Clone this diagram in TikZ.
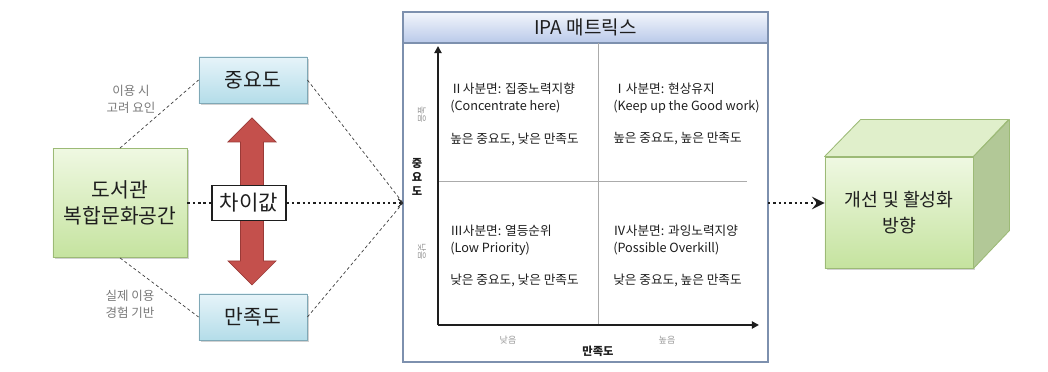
\documentclass[tikz,border=0pt]{standalone}
\usepackage{fontspec}
\setmainfont{Noto Sans CJK KR}
\usetikzlibrary{calc,arrows.meta,shadows}
\definecolor{ink}{HTML}{1E1E1E}
\definecolor{muted}{HTML}{7A7A7A}
\definecolor{hint}{HTML}{9A9A9A}
\definecolor{bluetop}{HTML}{E6F4F9}
\definecolor{bluebot}{HTML}{B4DDE9}
\definecolor{blueedge}{HTML}{7FA8B6}
\definecolor{greentop}{HTML}{EFF8E2}
\definecolor{greenbot}{HTML}{C5E39F}
\definecolor{greenedge}{HTML}{9CBA76}
\definecolor{greenlid}{HTML}{E0EFCB}
\definecolor{greenside}{HTML}{B2C897}
\definecolor{redfill}{HTML}{C4504C}
\definecolor{rededge}{HTML}{9A3A37}
\definecolor{headtop}{HTML}{F3F6FC}
\definecolor{headbot}{HTML}{B9C9E9}
\definecolor{frame}{HTML}{7D90AE}
\definecolor{divider}{HTML}{ABABAB}
\tikzset{
  boxshadow/.style={drop shadow={shadow xshift=1.2pt, shadow yshift=-1.4pt, opacity=0.35}},
  bluebox/.style={draw=blueedge, line width=0.6pt, top color=bluetop, bottom color=bluebot, text=ink,
    minimum width=2.7cm, minimum height=1.15cm, font=\fontsize{14.5}{18}\selectfont, boxshadow},
  greenbox/.style={draw=greenedge, line width=0.6pt, top color=greentop, bottom color=greenbot, text=ink,
    minimum width=3.35cm, minimum height=2.725cm, align=center, font=\fontsize{14.5}{18.5}\selectfont, boxshadow},
  gapbox/.style={draw=ink, fill=white, line width=0.8pt, text=ink, minimum width=1.85cm, minimum height=0.875cm,
    inner sep=0pt, font=\fontsize{15}{18}\selectfont},
  note/.style={text=muted, align=center, font=\fontsize{8.9}{12}\selectfont},
  link/.style={draw=ink!85, dash pattern=on 2.2pt off 1.8pt, line width=0.5pt},
  flow/.style={draw=ink, line width=1.7pt, dash pattern=on 1.7pt off 2.1pt},
  gaparrow/.style={fill=redfill, draw=rededge, line width=0.5pt, line join=miter},
  ipaframe/.style={draw=frame, fill=white, line width=0.9pt, minimum width=9.125cm, minimum height=8.75cm},
  ipahead/.style={draw=frame, line width=0.9pt, top color=headtop, bottom color=headbot, text=ink,
    minimum width=9.125cm, minimum height=0.775cm, font=\fontsize{13.5}{16}\selectfont},
  axis/.style={draw=ink, line width=1.3pt, -{Triangle[length=5pt,width=5pt]}},
  split/.style={draw=divider, line width=0.6pt},
  quad/.style={anchor=north west, inner sep=0pt, align=left, text=ink, font=\fontsize{9}{12}\selectfont},
  level/.style={text=hint, inner sep=0pt, font=\fontsize{6.4}{7}\selectfont},
  axislab/.style={text=ink, inner sep=0pt, font=\fontsize{8}{10}\selectfont\bfseries},
  cubefront/.style={draw=greenedge, line width=0.6pt, top color=greentop, bottom color=greenbot, text=ink,
    minimum width=3.7cm, minimum height=2.775cm, align=center, font=\fontsize{13}{18}\selectfont, boxshadow},
  cubelid/.style={draw=greenedge, line width=0.6pt, fill=greenlid, line join=round},
  cubeside/.style={draw=greenedge, line width=0.6pt, fill=greenside, line join=round},
}
\begin{document}
\begin{tikzpicture}[x=0.025cm, y=-0.025cm]
  \fill[white] (0,0) rectangle (1048,372);
  \useasboundingbox (0,0) rectangle (1048,372);

  % left part
  \node[greenbox] (lib) at (120,203) {도서관\\복합문화공간};
  \node[bluebox] (imp) at (253,80) {중요도};
  \node[bluebox] (sat) at (253,317) {만족도};
  \node[note] (why) at (131,99) {이용 시\\고려 요인};
  \node[note] (how) at (130,304) {실제 이용\\경험 기반};

  \coordinate (up) at (252,118);
  \coordinate (dn) at (252,285);
  \draw[gaparrow] (up) -- ++(24,24) -- ++(-12.5,0) -- ++(0,119) -- ++(12.5,0) -- (dn)
    -- ++(-24,-24) -- ++(12.5,0) -- ++(0,-119) -- ++(-12.5,0) -- cycle;
  \node[gapbox] (gap) at (249,203) {차이값};

  % IPA matrix
  \node[ipaframe] (ipa) at (585.5,187) {};
  \node[ipahead] (head) at (585.5,27.5) {IPA 매트릭스};
  \coordinate (ipain) at (403,203);
  \coordinate (ipaout) at (768,203);

  \coordinate (o) at (438,325);
  \coordinate (ytip) at (438,46);
  \coordinate (xtip) at (759,325);
  \coordinate (vtop) at (598,43);
  \coordinate (vbot) at (598,325);
  \coordinate (hl) at (438,181);
  \coordinate (hr) at (747,181);
  \draw[split] (vtop) -- (vbot);
  \draw[split] (hl) -- (hr);
  \draw[axis] (o) -- (ytip);
  \draw[axis] (o) -- (xtip);

  \node[quad] (q2) at (450,83) {Ⅱ사분면: 집중노력지향\\(Concentrate here)\\[11pt]높은 중요도, 낮은 만족도};
  \node[quad] (q1) at (613,83) {Ⅰ사분면: 현상유지\\(Keep up the Good work)\\[11pt]높은 중요도, 높은 만족도};
  \node[quad] (q3) at (450,225) {Ⅲ사분면: 열등순위\\(Low Priority)\\[11pt]낮은 중요도, 낮은 만족도};
  \node[quad] (q4) at (613,225) {Ⅳ사분면: 과잉노력지양\\(Possible Overkill)\\[11pt]낮은 중요도, 높은 만족도};

  \node[level, rotate=-90] (yhi) at (422,115) {높음};
  \node[level, rotate=-90] (ylo) at (422,252) {낮음};
  \node[axislab, align=center] (ylab) at (417,177) {중\\요\\도};
  \node[level] (xlo) at (508,340) {낮음};
  \node[level] (xhi) at (667,340) {높음};
  \node[axislab] (xlab) at (598,351) {만족도};

  % result cube
  \node[cubefront] (plan) at (899,212.5) {개선 및 활성화\\방향};
  \draw[cubelid] (plan.north west) -- ++(36,-37) -- ++(148,0) -- (plan.north east) -- cycle;
  \draw[cubeside] (plan.north east) -- ++(36,-37) -- ++(0,111) -- (plan.south east) -- cycle;

  % connectors
  \draw[link] (lib.north) -- (imp.west);
  \draw[link] (lib.south) -- (sat.west);
  \draw[link] (imp.east) -- (ipain);
  \draw[link] (sat.east) -- (ipain);
  \draw[flow] (lib.east) -- (gap.west);
  \draw[flow, -{Straight Barb[length=3pt,width=6pt,line width=0.7pt]}] (gap.east) -- (ipain);
  \draw[flow, -{Stealth[length=9pt,width=9pt,inset=3.5pt]}] (ipaout) -- (ipaout -| plan.west);
\end{tikzpicture}
\end{document}
